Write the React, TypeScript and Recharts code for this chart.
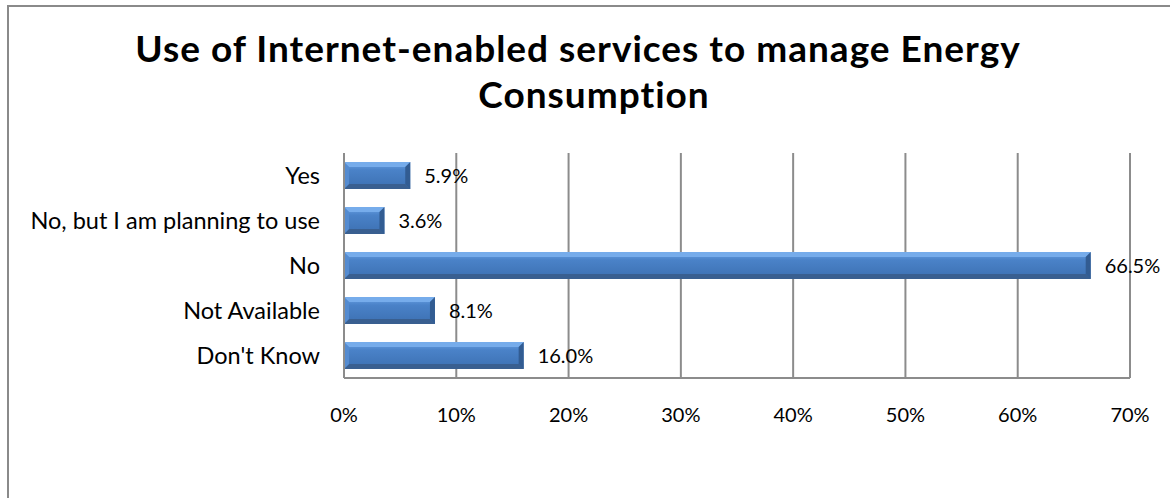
import React from "react";
import { BarChart, Bar, XAxis, YAxis, CartesianGrid, LabelList } from "recharts";

const categories = ["Yes", "No, but I am planning to use", "No", "Not Available", "Don't Know"];
const shares = [5.9, 3.6, 66.5, 8.1, 16.0];
const xTicks = [0, 10, 20, 30, 40, 50, 60, 70];
const titleLines = ["Use of Internet-enabled services to manage Energy", "Consumption"];

const data = categories.map((name, i) => ({ name, value: shares[i] }));

const BevelBar = (props: any) => {
  const { x, y, width, height } = props;
  if (!width || width <= 0) return null;
  const b = Math.min(5, width / 2);
  const x2 = x + width;
  const y2 = y + height;
  return (
    <g>
      <rect x={x} y={y} width={width} height={height} fill="url(#barMain)" />
      <polygon points={`${x},${y} ${x2},${y} ${x2 - b},${y + b} ${x + b},${y + b}`} fill="#76ACEB" />
      <polygon points={`${x},${y2} ${x2},${y2} ${x2 - b},${y2 - b} ${x + b},${y2 - b}`} fill="#395F90" />
      <polygon points={`${x},${y} ${x + b},${y + b} ${x + b},${y2 - b} ${x},${y2}`} fill="#548BD0" />
      <polygon points={`${x2},${y} ${x2 - b},${y + b} ${x2 - b},${y2 - b} ${x2},${y2}`} fill="#325C92" />
    </g>
  );
};

export default function App() {
  return (
    <div style={{ position: "absolute", left: 0, top: 0, width: 1170, height: 498, background: "#fff", overflow: "hidden" }}>
      <div
        style={{
          position: "absolute",
          left: 7,
          top: 5,
          width: 1163,
          height: 493,
          borderLeft: "2px solid #8a8a8a",
          borderTop: "2px solid #8a8a8a",
          boxSizing: "border-box",
        }}
      />
      <svg width={1170} height={130} style={{ position: "absolute", left: 0, top: 0 }}>
        <text x={578} y={62} textAnchor="middle" fontFamily="Lato" fontWeight="bold" fontSize={37} letterSpacing={1} fill="#000">
          {titleLines[0]}
        </text>
        <text x={594} y={108} textAnchor="middle" fontFamily="Lato" fontWeight="bold" fontSize={37} letterSpacing={1} fill="#000">
          {titleLines[1]}
        </text>
      </svg>
      <div style={{ position: "absolute", left: 0, top: 0 }}>
        <BarChart
          width={1170}
          height={498}
          data={data}
          layout="vertical"
          margin={{ top: 153, right: 40, bottom: 80, left: 0 }}
          barCategoryGap="40%"
        >
          <defs>
            <linearGradient id="barMain" x1="0" y1="0" x2="0" y2="1">
              <stop offset="0%" stopColor="#6AA2E5" />
              <stop offset="30%" stopColor="#4A82C8" />
              <stop offset="80%" stopColor="#4075B8" />
              <stop offset="100%" stopColor="#3A68A3" />
            </linearGradient>
          </defs>
          <CartesianGrid horizontal={false} stroke="#8c8c8c" strokeWidth={2} />
          <XAxis
            type="number"
            domain={[0, 70]}
            ticks={xTicks}
            tickFormatter={(v: number) => `${v}%`}
            height={40}
            tickLine={false}
            tickSize={0}
            tickMargin={30}
            axisLine={{ stroke: "#8c8c8c", strokeWidth: 2 }}
            tick={{ fill: "#000", fontFamily: "Lato", fontSize: 20 }}
            interval={0}
          />
          <YAxis
            type="category"
            dataKey="name"
            width={344}
            tickLine={false}
            tickSize={0}
            tickMargin={24}
            axisLine={{ stroke: "#8c8c8c", strokeWidth: 2 }}
            tick={{ fill: "#000", fontFamily: "Lato", fontSize: 23.5 }}
            interval={0}
          />
          <Bar dataKey="value" barSize={27} shape={<BevelBar />} isAnimationActive={false}>
            <LabelList
              dataKey="value"
              position="right"
              offset={14}
              formatter={(v: any) => `${Number(v).toFixed(1)}%`}
              style={{ fill: "#000", fontFamily: "Lato", fontSize: 20 }}
            />
          </Bar>
        </BarChart>
      </div>
    </div>
  );
}
